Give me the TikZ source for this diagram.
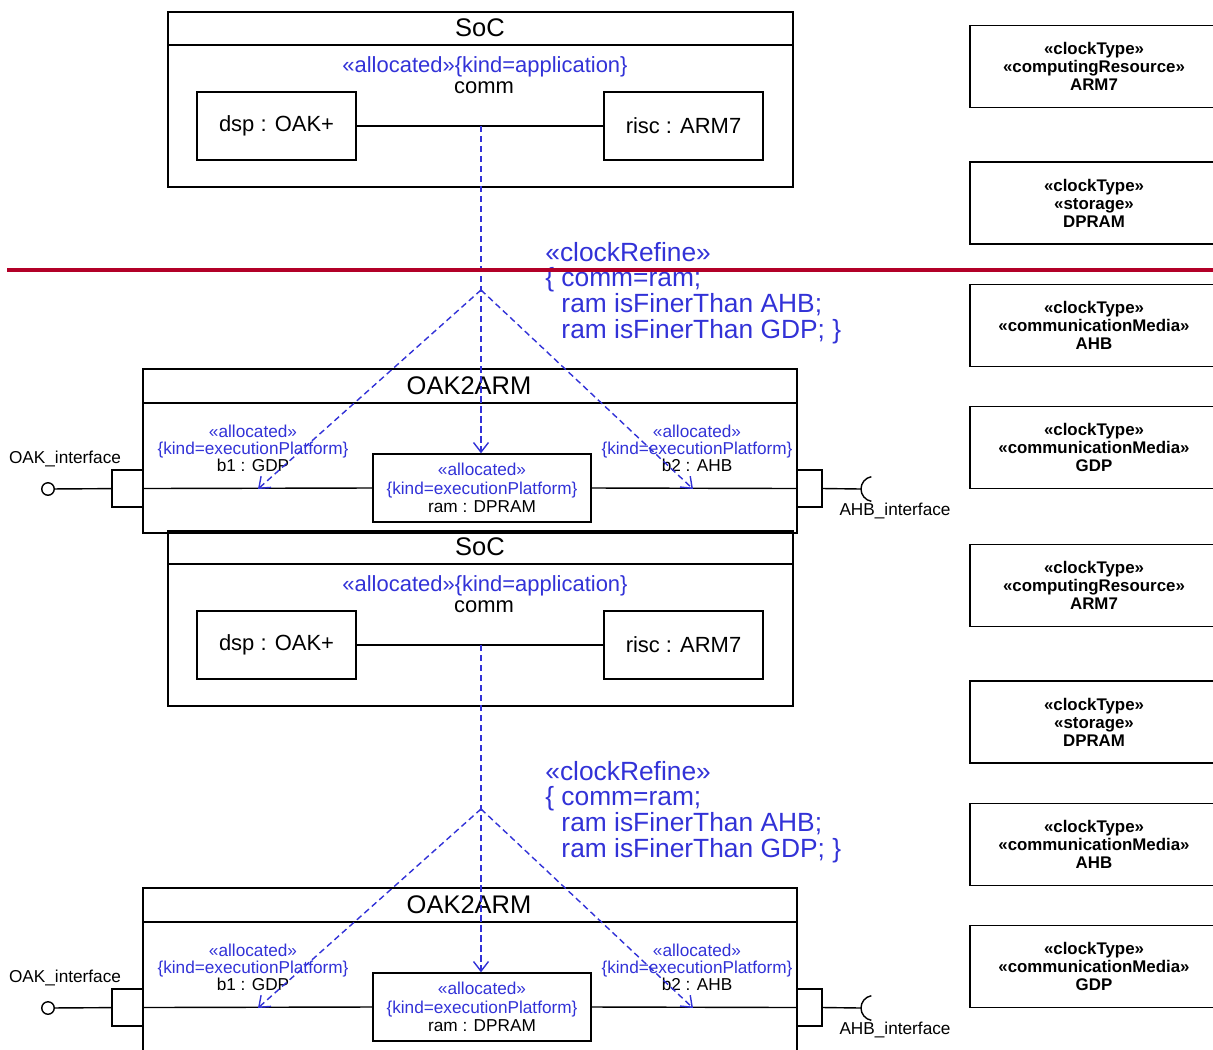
\documentclass[tikz,border=0pt]{standalone}
\usepackage{fontspec}
\setmainfont{Liberation Sans}
\usetikzlibrary{arrows.meta}
\definecolor{umlblue}{RGB}{50,50,215}
\definecolor{cutred}{RGB}{178,0,40}
\newcommand{\titlefont}{\fontsize{14.5}{16}\selectfont}
\newcommand{\partfont}{\fontsize{12.5}{14}\selectfont}
\newcommand{\smallfont}{\fontsize{9.8}{9.6}\selectfont}
\newcommand{\refinefont}{\fontsize{15}{14.7}\selectfont}
\newcommand{\clockfont}{\fontsize{9.6}{10.2}\selectfont\bfseries}

\begin{document}
\begin{tikzpicture}[x=0.02cm, y=-0.02cm,
    frame/.style={line width=0.8pt},
    part/.style={draw, line width=0.8pt, minimum width=3.18cm, minimum height=1.36cm, font=\partfont},
    port/.style={draw, line width=0.8pt, minimum height=0.74cm, inner sep=0pt},
    alloc/.style={umlblue, line width=0.8pt, dash pattern=on 3.5pt off 2.2pt, -{Straight Barb[length=5.5pt,width=8.5pt]}},
    clockbox/.style={draw, line width=0.8pt, minimum width=4.96cm, minimum height=1.64cm, align=center, font=\clockfont},
    lbl/.style={font=\smallfont, align=center, inner sep=0pt}]

    \useasboundingbox (0,0) rectangle (1213,1049);
    \clip (0,0) rectangle (1213,1049);

    % the same diagram twice, one under the other
    \foreach \dy/\k in {0/a,519/b}{
    \begin{scope}[shift={(0,\dy)}]
        % SoC frame
        \draw[frame] (168,12) rectangle (793,187);
        \draw[frame] (168,45) -- (793,45);
        \node[font=\titlefont] (soctitle\k) at (480,28) {SoC};

        \node[part] (dsp\k) at (276.5,126) {dsp : OAK+};
        \node[part] (risc\k) at (683.5,126) {risc : ARM7};
        \draw[frame] (dsp\k) -- (risc\k);
        \coordinate (comm\k) at (481,126);
        \node[font=\partfont, text=umlblue] (commst\k) at (485,67) {«allocated»\{kind=application\}};
        \node[font=\partfont] (commname\k) at (484,88) {comm};

        % OAK2ARM frame
        \draw[frame] (143,369) rectangle (797,533);
        \draw[frame] (143,403) -- (797,403);
        \node[font=\titlefont] (oaktitle\k) at (469,386) {OAK2ARM};

        \node[part, minimum width=4.36cm, align=center, font=\fontsize{9.8}{10.5}\selectfont] (ram\k) at (482,488)
            {\textcolor{umlblue}{«allocated»}\\\textcolor{umlblue}{\{kind=executionPlatform\}}\\ram : DPRAM};

        % ports and interfaces
        \node[port, minimum width=0.62cm] (lport\k) at (127.5,488.5) {};
        \node[port, minimum width=0.5cm] (rport\k) at (809.5,488.5) {};
        \node[circle, draw, line width=0.8pt, minimum size=0.25cm, inner sep=0pt] (lolli\k) at (48,489) {};
        \coordinate (sock\k) at (861,489);
        \draw[frame] (lolli\k) -- (lport\k);
        \draw[frame] (lport\k.east) -- (ram\k.west);
        \draw[frame] (ram\k.east) -- (rport\k.west);
        \draw[frame] (rport\k.east) -- (sock\k);
        \draw[frame] (sock\k) arc[start angle=180, end angle=100, radius=0.25cm];
        \draw[frame] (sock\k) arc[start angle=180, end angle=260, radius=0.25cm];
        \node[lbl] (oakif\k) at (65,459) {OAK\_interface};
        \node[lbl] (ahbif\k) at (895,511) {AHB\_interface};

        % connector labels
        \node[lbl] (b1lbl\k) at (253,448)
            {\textcolor{umlblue}{«allocated»}\\\textcolor{umlblue}{\{kind=executionPlatform\}}\\b1 : GDP};
        \node[lbl] (b2lbl\k) at (697,448)
            {\textcolor{umlblue}{«allocated»}\\\textcolor{umlblue}{\{kind=executionPlatform\}}\\b2 : AHB};
        \coordinate (b1end\k) at (258,489);
        \coordinate (b2end\k) at (693,489);

        % clockRefine dependency
        \coordinate (apex\k) at (481,290);
        \draw[alloc] (comm\k) -- (comm\k |- ram\k.north);
        \draw[alloc] (apex\k) -- (b1end\k);
        \draw[alloc] (apex\k) -- (b2end\k);
        \node[font=\refinefont, text=umlblue, align=left, anchor=west, inner sep=0pt] (refine\k) at (545,293)
            {«clockRefine»\\\{ comm=ram;\\\phantom{\{ }ram isFinerThan AHB;\\\phantom{\{ }ram isFinerThan GDP; \}};

        % clock types
        \node[clockbox] (armck\k) at (1094,66.5) {«clockType»\\«computingResource»\\ARM7};
        \node[clockbox] (dpramck\k) at (1094,203) {«clockType»\\«storage»\\DPRAM};
        \node[clockbox] (ahbck\k) at (1094,325.5) {«clockType»\\«communicationMedia»\\AHB};
        \node[clockbox] (gdpck\k) at (1094,447.5) {«clockType»\\«communicationMedia»\\GDP};
    \end{scope}
    }

    % red cut line
    \draw[cutred, line width=2.8pt] (7,270) -- (1213,270);
\end{tikzpicture}
\end{document}
